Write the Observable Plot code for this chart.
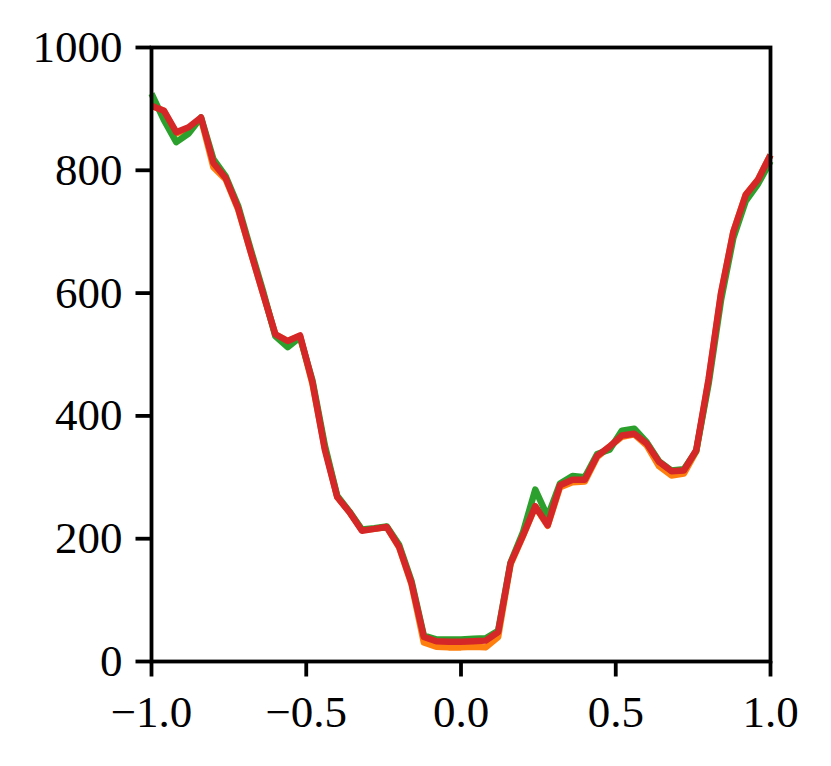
<!DOCTYPE html>
<html>
<head>
<meta charset="utf-8">
<script src="https://cdn.jsdelivr.net/npm/d3@7"></script>
<script src="https://cdn.jsdelivr.net/npm/@observablehq/plot@0.6"></script>
<style>
  html, body { margin: 0; padding: 0; background: #fff; }
  #chart { width: 831px; height: 766px; }
  #chart svg text { font-family: "Liberation Serif", "Times New Roman", serif; }
</style>
</head>
<body>
<div id="chart"></div>
<script>
const xs = [-1.00, -0.96, -0.92, -0.88, -0.84, -0.80, -0.76, -0.72, -0.68, -0.64,
            -0.60, -0.56, -0.52, -0.48, -0.44, -0.40, -0.36, -0.32, -0.28, -0.24,
            -0.20, -0.16, -0.12, -0.08, -0.04, 0.00, 0.04, 0.08, 0.12, 0.16,
            0.20, 0.24, 0.28, 0.32, 0.36, 0.40, 0.44, 0.48, 0.52, 0.56,
            0.60, 0.64, 0.68, 0.72, 0.76, 0.80, 0.84, 0.88, 0.92, 0.96, 1.00];

const seriesAY = [905, 897, 860, 868, 884, 805, 785, 736, 668, 600,
                  533, 522, 530, 452, 348, 268, 243, 214, 216, 219,
                  186, 126, 31, 24, 23, 23, 24, 23, 40, 158,
                  204, 252, 221, 284, 292, 293, 333, 350, 366, 370,
                  352, 318, 303, 306, 342, 458, 598, 700, 760, 785, 825];

const seriesBY = [925, 882, 846, 860, 886, 818, 790, 742, 672, 604,
                  530, 512, 528, 458, 352, 270, 244, 215, 217, 220,
                  190, 131, 42, 36, 36, 36, 37, 38, 50, 161,
                  210, 280, 236, 290, 302, 300, 338, 345, 376, 379,
                  357, 326, 311, 313, 343, 452, 588, 690, 750, 778, 815];

const seriesCY = [905, 897, 862, 870, 886, 812, 787, 738, 668, 600,
                  533, 522, 531, 455, 345, 268, 243, 213, 216, 219,
                  187, 128, 40, 33, 32, 32, 33, 34, 48, 160,
                  205, 253, 222, 287, 296, 296, 335, 350, 368, 371,
                  355, 325, 310, 311, 344, 460, 600, 700, 760, 785, 825];

const xTicks = [-1.0, -0.5, 0.0, 0.5, 1.0];
const yTicks = [0, 200, 400, 600, 800, 1000];

const seriesNames = ["A", "B", "C"];
const seriesValues = [seriesAY, seriesBY, seriesCY];
const seriesColors = ["#ff7f0e", "#2ca02c", "#d62728"];

const rows = seriesNames.flatMap((s, k) => xs.map((x, i) => ({series: s, x, y: seriesValues[k][i]})));

const fmt = d3.format(".1f");

const chart = Plot.plot({
  width: 831,
  height: 766,
  marginLeft: 151,
  marginRight: 61,
  marginTop: 47,
  marginBottom: 105,
  style: {fontFamily: "Liberation Serif", fontSize: "45px", background: "#fff", color: "#000"},
  x: {domain: [-1, 1]},
  y: {domain: [0, 1000]},
  color: {type: "ordinal", domain: seriesNames, range: seriesColors},
  marks: [
    Plot.line(rows, {x: "x", y: "y", z: "series", stroke: "series", strokeWidth: 6.5, strokeLinejoin: "round", strokeLinecap: "butt"}),
    Plot.frame({stroke: "#000", strokeWidth: 3.8}),
    Plot.axisX({ticks: xTicks, tickFormat: fmt, tickSize: 15.5, tickPadding: 18.5, strokeWidth: 3.8, fontSize: 45, label: null}),
    Plot.axisY({ticks: yTicks, tickFormat: d3.format("d"), tickSize: 15.5, tickPadding: 13.5, strokeWidth: 3.8, fontSize: 45, label: null})
  ]
});
document.getElementById("chart").appendChild(chart);
</script>
</body>
</html>
